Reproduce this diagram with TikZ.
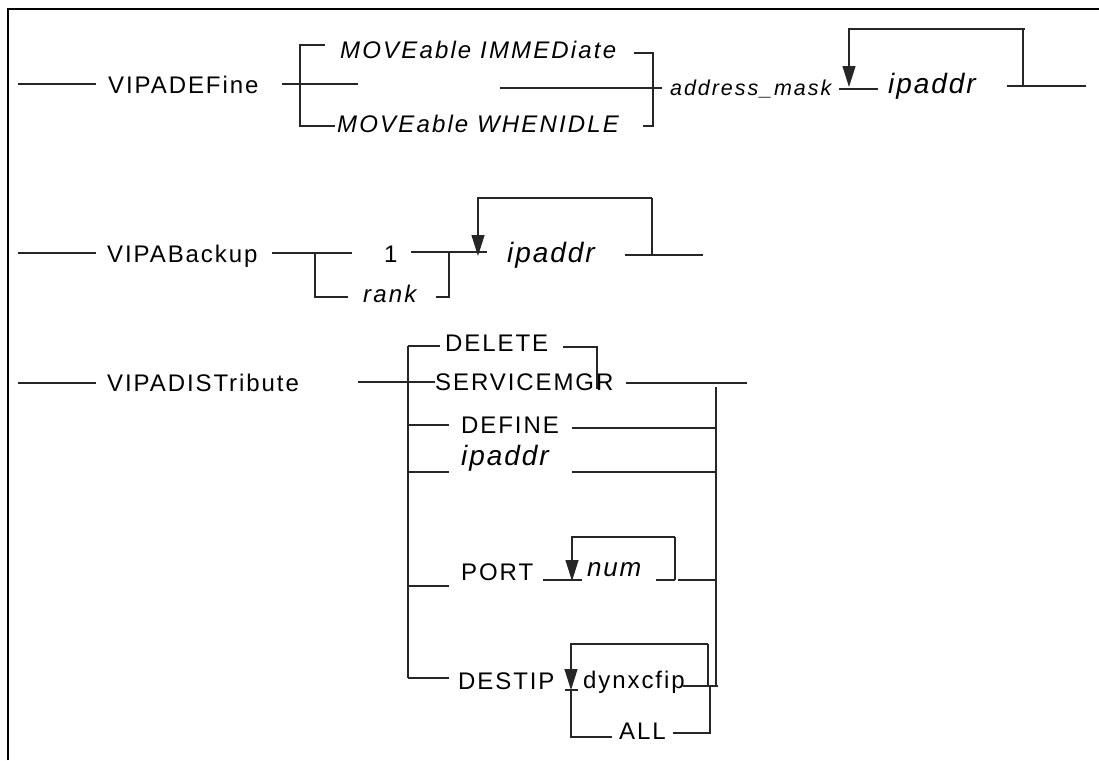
\documentclass[tikz,border=0pt]{standalone}
\usepackage{fontspec}
\setmainfont{Liberation Sans}[LetterSpace=8]
\usetikzlibrary{arrows.meta}
\tikzset{
  rail/.style={line width=1.2pt, black!85},
  looparrow/.style={-{Triangle[length=21pt,width=13pt]}},
  kw/.style={inner sep=0pt, anchor=base west, font=\fontsize{24}{28}\selectfont},
  var/.style={inner sep=0pt, anchor=base west, font=\fontsize{24}{28}\selectfont\itshape\addfontfeatures{LetterSpace=9}},
  smallvar/.style={inner sep=0pt, anchor=base west, font=\fontsize{21.5}{25}\selectfont\itshape\addfontfeatures{LetterSpace=9}},
  bigvar/.style={inner sep=0pt, anchor=base west, font=\fontsize{28}{32}\selectfont\itshape\addfontfeatures{LetterSpace=7}},
  numvar/.style={inner sep=0pt, anchor=base west, font=\fontsize{26}{30}\selectfont\itshape\addfontfeatures{LetterSpace=7}},
  frame/.style={line width=2.5pt, black}
}
\begin{document}
\begin{tikzpicture}[x=1pt,y=-1pt]
\useasboundingbox (0,0) rectangle (1099,760);
% outer frame (top and left edges)
\draw[frame] (8,760) -- (8,9) -- (1099,9);

% ---------------- VIPADEFine ----------------
\coordinate (a0) at (18,84);
\coordinate (a1) at (96,84);
\node[kw] (vdef) at (108,93) {VIPADEFine};
\coordinate (a2) at (282,84);
\coordinate (a3) at (358,84);
\coordinate (atop) at (300,45);
\coordinate (abot) at (300,126);
\coordinate (atopE) at (325,45);
\coordinate (abotE) at (335,126);
\node[var] (mimm) at (340,59) {MOVEable IMMEDiate};
\node[var] (mwhen) at (337,132) {MOVEable WHENIDLE};
\coordinate (ri1) at (634,53);
\coordinate (rv1) at (653,53);
\coordinate (rv2) at (653,126);
\coordinate (ri2) at (643,126);
\coordinate (m1) at (500,88);
\coordinate (m2) at (662,88);
\node[smallvar] (amask) at (670,95) {address\_mask};
\coordinate (b1) at (839,89);
\coordinate (b2) at (878,89);
\coordinate (lp0) at (1025,29);
\coordinate (lp1) at (849,29);
\coordinate (lp2) at (849,87);
\coordinate (lp3) at (1023,29);
\coordinate (lp4) at (1023,86);
\node[bigvar] (ip1) at (888,93) {ipaddr};
\coordinate (e1) at (1007,86);
\coordinate (e2) at (1086,86);

\draw[rail] (a0) -- (a1);
\draw[rail] (a2) -- (a3);
\draw[rail] (atopE) -- (atop) -- (abot) -- (abotE);
\draw[rail] (ri1) -- (rv1) -- (rv2) -- (ri2);
\draw[rail] (m1) -- (m2);
\draw[rail] (b1) -- (b2);
\draw[rail,looparrow] (lp0) -- (lp1) -- (lp2);
\draw[rail] (lp3) -- (lp4);
\draw[rail] (e1) -- (e2);

% ---------------- VIPABackup ----------------
\coordinate (c0) at (18,253);
\coordinate (c1) at (96,253);
\node[kw] (vbak) at (107,262) {VIPABackup};
\coordinate (c2) at (272,253);
\coordinate (c3) at (352,253);
\coordinate (cj) at (315,253);
\coordinate (cjb) at (315,297);
\coordinate (cjbE) at (348,297);
\node[kw] (one) at (384,262) {1};
\node[var] (rank) at (363,302) {rank};
\coordinate (c4) at (411,252);
\coordinate (c5) at (487,252);
\coordinate (ck) at (449,252);
\coordinate (ckb) at (449,297);
\coordinate (ckbW) at (436,297);
\coordinate (lq1) at (478,198);
\coordinate (lq2) at (478,256);
\coordinate (lq3) at (652,198);
\coordinate (lq4) at (652,255);
\node[bigvar] (ip2) at (507,262) {ipaddr};
\coordinate (c6) at (625,255);
\coordinate (c7) at (703,255);

\draw[rail] (c0) -- (c1);
\draw[rail] (c2) -- (c3);
\draw[rail] (cj) -- (cjb) -- (cjbE);
\draw[rail] (c4) -- (c5);
\draw[rail] (ck) -- (ckb) -- (ckbW);
\draw[rail,looparrow] (lq3) -- (lq1) -- (lq2);
\draw[rail] (lq3) -- (lq4);
\draw[rail] (c6) -- (c7);

% ---------------- VIPADISTribute ----------------
\coordinate (d0) at (18,383);
\coordinate (d1) at (96,383);
\node[kw] (vdist) at (107,391) {VIPADISTribute};
\coordinate (d2) at (358,382);
\node[kw] (svc) at (435,390) {SERVICEMGR};
\coordinate (d3) at (435,382);
\coordinate (lv0) at (408,346);
\coordinate (lv1) at (408,678);
% DELETE
\coordinate (del0) at (440,346);
\node[kw] (del) at (445,351) {DELETE};
\coordinate (del1) at (563,347);
\coordinate (del2) at (597,347);
\coordinate (del3) at (597,389);
% SERVICEMGR exit
\coordinate (s1) at (626,383);
\coordinate (s2) at (747,383);
\coordinate (rv0) at (716,387);
\coordinate (rvE) at (716,686);
% DEFINE
\coordinate (df0) at (408,425);
\coordinate (df1) at (449,425);
\node[kw] (dfn) at (461,433) {DEFINE};
\coordinate (df2) at (572,428);
\coordinate (df3) at (716,428);
% ipaddr
\coordinate (ia0) at (408,472);
\coordinate (ia1) at (449,472);
\node[bigvar] (ip3) at (461,465) {ipaddr};
\coordinate (ia2) at (572,472);
\coordinate (ia3) at (716,472);
% PORT
\coordinate (p0) at (408,586);
\coordinate (p1) at (449,586);
\node[kw] (port) at (461,580) {PORT};
\coordinate (p2) at (543,580);
\coordinate (p3) at (582,580);
\coordinate (pl1) at (572,537);
\coordinate (pl2) at (572,581);
\coordinate (pl3) at (675,537);
\coordinate (pl4) at (675,580);
\node[numvar] (num) at (587,576) {num};
\coordinate (p4) at (656,580);
\coordinate (p5) at (678,580);
\coordinate (p6) at (716,580);
% DESTIP
\coordinate (ds0) at (408,678);
\coordinate (ds1) at (449,678);
\node[kw] (dst) at (458,689) {DESTIP};
\coordinate (dl1) at (571,644);
\coordinate (dl2) at (571,690);
\coordinate (dl3) at (708,644);
\coordinate (dl4) at (708,686);
\coordinate (du0) at (565,690);
\coordinate (du1) at (578,690);
\coordinate (dd1) at (571,737);
\coordinate (dd2) at (612,737);
\node[kw] (dyn) at (583,688) {dynxcfip};
\coordinate (dy1) at (683,686);
\coordinate (dy2) at (718,686);
\node[kw] (all) at (619,739) {ALL};
\coordinate (al1) at (673,733);
\coordinate (al2) at (710,733);
\coordinate (al3) at (710,686);

\draw[rail] (d0) -- (d1);
\draw[rail] (d2) -- (d3);
\draw[rail] (lv0) -- (lv1);
\draw[rail] (lv0) -- (del0);
\draw[rail] (del1) -- (del2) -- (del3);
\draw[rail] (s1) -- (s2);
\draw[rail] (rv0) -- (rvE);
\draw[rail] (df0) -- (df1);
\draw[rail] (df2) -- (df3);
\draw[rail] (ia0) -- (ia1);
\draw[rail] (ia2) -- (ia3);
\draw[rail] (p0) -- (p1);
\draw[rail] (p2) -- (p3);
\draw[rail,looparrow] (pl3) -- (pl1) -- (pl2);
\draw[rail] (pl3) -- (pl4);
\draw[rail] (p4) -- (pl4);
\draw[rail] (p5) -- (p6);
\draw[rail] (ds0) -- (ds1);
\draw[rail,looparrow] (dl3) -- (dl1) -- (dl2);
\draw[rail] (dl3) -- (dl4);
\draw[rail] (du0) -- (du1);
\draw[rail] (dl2) -- (dd1) -- (dd2);
\draw[rail] (dy1) -- (dy2);
\draw[rail] (al1) -- (al2) -- (al3);
\end{tikzpicture}
\end{document}
